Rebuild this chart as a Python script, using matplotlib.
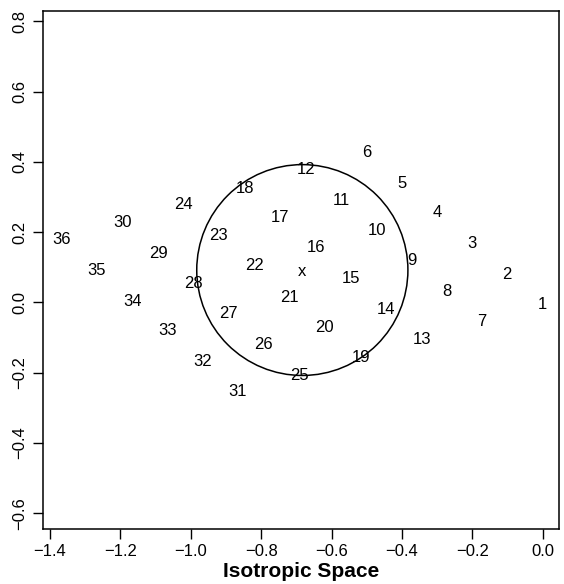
import matplotlib
matplotlib.use("Agg")
import matplotlib.pyplot as plt
from matplotlib.patches import Circle

plt.rcParams['font.family'] = ['Liberation Sans', 'DejaVu Sans']

# point coordinates in the isotropic map (label = index + 1)
x_coords = [0.000, -0.101, -0.200, -0.299, -0.401, -0.500,
            -0.173, -0.273, -0.372, -0.472, -0.573, -0.672,
            -0.344, -0.445, -0.545, -0.645, -0.746, -0.846,
            -0.517, -0.619, -0.721, -0.820, -0.920, -1.021,
            -0.692, -0.794, -0.893, -0.993, -1.092, -1.193,
            -0.868, -0.966, -1.067, -1.166, -1.267, -1.367]
y_coords = [-0.003, 0.085, 0.171, 0.260, 0.343, 0.431,
            -0.050, 0.034, 0.123, 0.208, 0.293, 0.381,
            -0.102, -0.015, 0.071, 0.160, 0.246, 0.329,
            -0.152, -0.067, 0.019, 0.108, 0.194, 0.282,
            -0.203, -0.115, -0.028, 0.059, 0.144, 0.231,
            -0.250, -0.164, -0.077, 0.007, 0.094, 0.182]
point_labels = [str(i + 1) for i in range(len(x_coords))]

center_x = -0.683
center_y = 0.092
radius = 0.30

x_ticks = [-1.4, -1.2, -1.0, -0.8, -0.6, -0.4, -0.2, 0.0]
x_tick_labels = ['\u22121.4', '\u22121.2', '\u22121.0', '\u22120.8',
                 '\u22120.6', '\u22120.4', '\u22120.2', '0.0']
y_ticks = [-0.6, -0.4, -0.2, 0.0, 0.2, 0.4, 0.6, 0.8]
y_tick_labels = ['\u22120.6', '\u22120.4', '\u22120.2', '0.0',
                 '0.2', '0.4', '0.6', '0.8']

fig = plt.figure(figsize=(5.64, 5.84), dpi=100)
ax = fig.add_axes([0.0757, 0.095, 0.916, 0.8855])

for xv, yv, lab in zip(x_coords, y_coords, point_labels):
    ax.text(xv, yv, lab, ha='center', va='center_baseline', fontsize=12)

ax.text(center_x, center_y, 'x', ha='center', va='center_baseline', fontsize=12)
ax.add_patch(Circle((center_x, center_y), radius, fill=False,
                    edgecolor='black', linewidth=1.1))

ax.set_xlim(-1.4207, 0.0472)
ax.set_ylim(-0.6435, 0.828)

ax.set_xticks(x_ticks)
ax.set_xticklabels(x_tick_labels, fontsize=12)
ax.set_yticks(y_ticks)
ax.set_yticklabels(y_tick_labels, fontsize=12, rotation=90, va='center')
ax.tick_params(direction='out', length=7.5, width=1.0, pad=3.5)

for side in ax.spines.values():
    side.set_linewidth(1.1)

fig.text(0.534, 1 - 577 / 584, 'Isotropic Space', ha='center', va='baseline',
         fontsize=15, fontweight='bold')
# main title sits just above the top edge of the device
fig.text(0.534, 1 + 3.5 / 584, 'Isotropic Space', ha='center', va='baseline',
         fontsize=15, fontweight='bold')

fig.savefig('out.png', dpi=100)
